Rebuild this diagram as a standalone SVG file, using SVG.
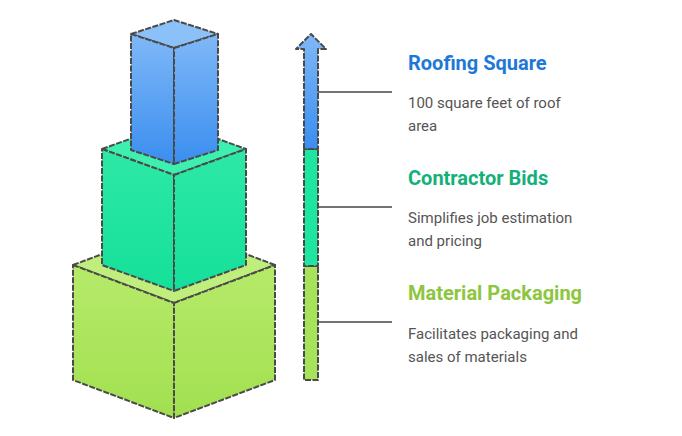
<svg xmlns="http://www.w3.org/2000/svg" width="682" height="436" viewBox="0 0 682 436">
<defs>
<linearGradient id="gb" x1="0" y1="0" x2="0" y2="1"><stop offset="0" stop-color="#7fb8f7"/><stop offset="1" stop-color="#3a8ef0"/></linearGradient>
<linearGradient id="gt" x1="0" y1="0" x2="0" y2="1"><stop offset="0" stop-color="#2ee8a6"/><stop offset="1" stop-color="#14e09a"/></linearGradient>
<linearGradient id="gg" x1="0" y1="0" x2="0" y2="1"><stop offset="0" stop-color="#b6ea6a"/><stop offset="1" stop-color="#a2e050"/></linearGradient>
<style>
.e{stroke:#4a4a4a;stroke-width:2;stroke-dasharray:6 1.5;stroke-linejoin:round}
.t{font-family:Roboto,"Liberation Sans",sans-serif;font-weight:bold;font-size:20px}
.d{font-family:Roboto,"Liberation Sans",sans-serif;font-size:15px;fill:#555}
.l{stroke:#444;stroke-width:1.5}
</style>
</defs>
<g id="cube-material">
<polygon class="e" fill="#c0ee7c" points="73,265 174,227 275,265 174,303"/>
<polygon class="e" fill="url(#gg)" points="73,265 174,303 174,418 73,380"/>
<polygon class="e" fill="url(#gg)" points="174,303 275,265 275,380 174,418"/>
</g>
<g id="cube-contractor">
<polygon class="e" fill="#3df0b0" points="102,149 174,123 246,149 174,175"/>
<polygon class="e" fill="url(#gt)" points="102,149 174,175 174,291 102,265"/>
<polygon class="e" fill="url(#gt)" points="174,175 246,149 246,265 174,291"/>
</g>
<g id="cube-roofing">
<polygon class="e" fill="#8cc0f8" points="131,34 174,20 218,34 174,48"/>
<polygon class="e" fill="url(#gb)" points="131,34 174,48 174,164 131,150"/>
<polygon class="e" fill="url(#gb)" points="174,48 218,34 218,150 174,164"/>
</g>
<g id="bar">
<rect x="304" y="266" width="14" height="114" fill="#a6e35a" class="e"/>
<rect x="304" y="149" width="14" height="117" fill="#1ee6a0" class="e"/>
<path d="M304,149 V49 H296 L311,34 L326,49 H318 V149 Z" fill="url(#gb)" class="e"/>
</g>
<g id="connectors">
<line class="l" x1="318" y1="92" x2="392" y2="92"/>
<line class="l" x1="318" y1="207" x2="392" y2="207"/>
<line class="l" x1="318" y1="322" x2="392" y2="322"/>
</g>
<g id="label-roofing">
<text class="t" x="408" y="70" fill="#1e78d6">Roofing Square</text>
<text class="d" x="408" y="108">100 square feet of roof</text>
<text class="d" x="408" y="131">area</text>
</g>
<g id="label-contractor">
<text class="t" x="408" y="185" fill="#14b07a">Contractor Bids</text>
<text class="d" x="408" y="223">Simplifies job estimation</text>
<text class="d" x="408" y="246">and pricing</text>
</g>
<g id="label-material">
<text class="t" x="408" y="300" fill="#8cc63f">Material Packaging</text>
<text class="d" x="408" y="339">Facilitates packaging and</text>
<text class="d" x="408" y="362">sales of materials</text>
</g>
</svg>
